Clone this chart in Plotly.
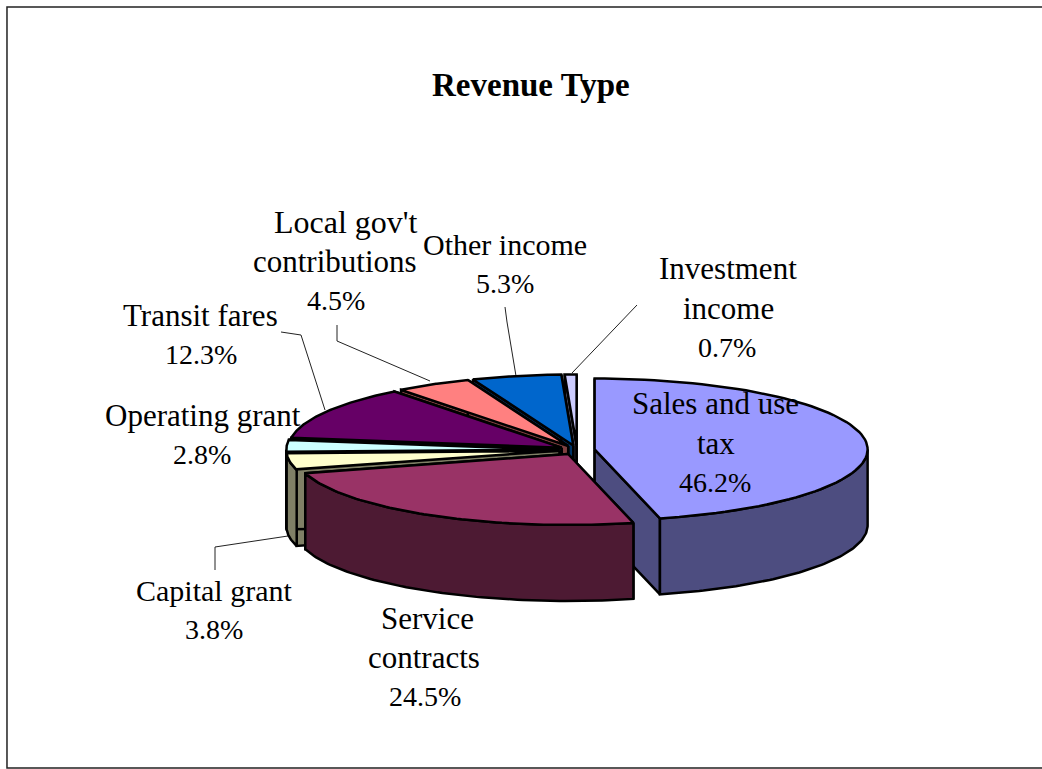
import numpy as np
import plotly.graph_objects as go

categories = ["Sales and use tax", "Service contracts", "Capital grant", "Operating grant",
              "Transit fares", "Local gov't contributions", "Other income", "Investment income"]
shares = [46.2, 24.5, 3.8, 2.8, 12.3, 4.5, 5.3, 0.7]
top_colors = ["#9999FF", "#993366", "#FFFFCC", "#CCFFFF", "#660066", "#FF8080", "#0066CC", "#CCCCFF"]
wall_colors = ["#4D4D80", "#4D1A33", "#808066", "#668080", "#330033", "#804040", "#003366", "#666680"]
draw_order = [0, 7, 6, 5, 4, 3, 2, 1]

CX, CY, RX, RY, DEPTH, EXPLODE = 577, 450, 273, 71, 76, 0.065
LW = 2.5

total = sum(shares)
edges = np.concatenate([[0], np.cumsum(shares)]) / total * 2 * np.pi


def rim(ax, ay, a):
    return ax + RX * np.sin(a), ay - RY * np.cos(a)


fig = go.Figure()


def poly(xs, ys, color, lw=LW):
    xs = list(xs) + [xs[0]]
    ys = list(ys) + [ys[0]]
    fig.add_trace(go.Scatter(x=xs, y=ys, mode="lines", fill="toself", fillcolor=color,
                             line=dict(color="black", width=lw), hoverinfo="skip", showlegend=False))


for i in draw_order:
    a0, a1 = edges[i], edges[i + 1]
    mid = (a0 + a1) / 2
    ax = CX + EXPLODE * RX * np.sin(mid)
    ay = CY - EXPLODE * RY * np.cos(mid)
    t = np.linspace(a0, a1, 80)
    rx, ry = rim(ax, ay, t)
    wall = wall_colors[i]
    # radial cut faces
    for a in (a0, a1):
        ex, ey = rim(ax, ay, a)
        poly([ax, ex, ex, ax], [ay, ey, ey + DEPTH, ay + DEPTH], wall)
    # outer wall, only the part facing the viewer
    lo, hi = max(a0, np.pi / 2), min(a1, 3 * np.pi / 2)
    if hi > lo:
        tw = np.linspace(lo, hi, 80)
        wx, wy = rim(ax, ay, tw)
        poly(list(wx) + list(wx[::-1]), list(wy) + list(wy[::-1] + DEPTH), wall)
    # top face
    poly([ax] + list(rx), [ay] + list(ry), top_colors[i])

label_lines = [
    ("Sales and use", 715, 403, 31), ("tax", 716, 443, 31), ("46.2%", 715, 482, 28),
    ("Service", 427, 618, 31), ("contracts", 424, 657, 31), ("24.5%", 425, 696, 28),
    ("Capital grant", 214, 590, 30), ("3.8%", 214, 629, 28),
    ("Operating grant", 203, 415, 31), ("2.8%", 202, 454, 28),
    ("Transit fares", 200, 315, 31), ("12.3%", 201, 354, 28),
    ("Local gov't", 346, 222, 32), ("contributions", 335, 261, 31), ("4.5%", 336, 300, 28),
    ("Other income", 505, 244, 30), ("5.3%", 505, 283, 28),
    ("Investment", 728, 268, 31), ("income", 728, 308, 31), ("0.7%", 727, 347, 28),
]
annotations = [dict(x=x, y=y, text=s, showarrow=False, xanchor="center", yanchor="middle",
                    font=dict(family="Liberation Serif", size=sz, color="black"))
               for s, x, y, sz in label_lines]
annotations.append(dict(x=531, y=85, text="<b>Revenue Type</b>", showarrow=False, xanchor="center",
                        yanchor="middle", font=dict(family="Liberation Serif", size=33, color="black")))

leaders = [
    [(637, 305), (572, 373)],
    [(337, 325), (337, 341), (430, 381)],
    [(505, 307), (507, 322), (516, 376)],
    [(281, 332), (301, 335), (325, 410)],
    [(215, 570), (215, 547), (288, 536)],
]
shapes = [dict(type="path", xref="x", yref="y", layer="below",
               path="M" + " L".join(f"{x},{y}" for x, y in pts),
               line=dict(color="#222222", width=1)) for pts in leaders]
shapes.append(dict(type="path", xref="paper", yref="paper", layer="below",
                   path="M1,0.9909 L0.0067,0.9909 L0.0067,0.0013 L1,0.0013",
                   line=dict(color="#222222", width=1.5)))

fig.update_layout(
    width=1042, height=769, margin=dict(l=0, r=0, t=0, b=0),
    paper_bgcolor="white", plot_bgcolor="white", showlegend=False,
    xaxis=dict(range=[0, 1042], visible=False, fixedrange=True),
    yaxis=dict(range=[769, 0], visible=False, fixedrange=True),
    annotations=annotations, shapes=shapes,
)
fig.write_html("out.html", config=dict(displayModeBar=False),
               post_script="document.body.style.margin='0';document.body.style.overflow='hidden';")
